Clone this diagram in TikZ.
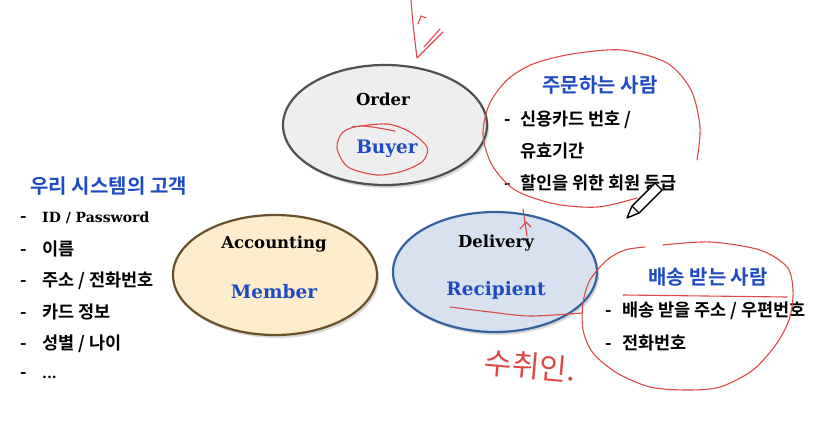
\documentclass[tikz,border=0pt]{standalone}
\usepackage{fontspec}
\usepackage{xcolor}
\usepackage{tikz}
\usetikzlibrary{shapes.geometric, shadows, positioning}

\newfontfamily\kr{Noto Sans CJK KR}[BoldFont={Noto Sans CJK KR Bold}]
\newfontfamily\latin{DejaVu Serif}

\definecolor{roleblue}{RGB}{30,75,195}
\definecolor{penred}{RGB}{222,72,72}
\definecolor{ordfill}{RGB}{238,238,238}
\definecolor{ordline}{RGB}{80,80,80}
\definecolor{accfill}{RGB}{253,237,204}
\definecolor{accline}{RGB}{105,82,42}
\definecolor{delfill}{RGB}{216,225,240}
\definecolor{delline}{RGB}{52,98,160}

\begin{document}
\begin{tikzpicture}[
    x=1pt, y=-1pt,
    entity/.style={ellipse, line width=2.2pt, minimum width=204pt, minimum height=120pt,
        drop shadow={opacity=0.3, shadow xshift=2pt, shadow yshift=-3pt}},
    entname/.style={font=\latin\bfseries\fontsize{16.5}{18}\selectfont, text=black},
    rolename/.style={font=\latin\bfseries\fontsize{18.5}{20}\selectfont, text=roleblue},
    grouptitle/.style={font=\kr\bfseries\fontsize{20}{22}\selectfont, text=roleblue},
    attr/.style={font=\kr\bfseries\fontsize{17.5}{19}\selectfont, anchor=west, inner sep=0pt},
    pen/.style={draw=penred, line width=1.1pt, line cap=round, line join=round}
]

    \useasboundingbox[fill=white] (0,0) rectangle (829,436);

    % Entity: Order / Buyer
    \node (ord) [entity, fill=ordfill, draw=ordline] at (385,125) {};
    \node (ordname) [entname] at (383,99) {Order};
    \node (buyer) [rolename] at (387,149) {Buyer};

    % Entity: Accounting / Member
    \node (acc) [entity, fill=accfill, draw=accline] at (275,275) {};
    \node (accname) [entname] at (274,244) {Accounting};
    \node (member) [rolename] at (274,292) {Member};

    % Entity: Delivery / Recipient
    \node (del) [entity, fill=delfill, draw=delline] at (495,272) {};
    \node (delname) [entname] at (496,243) {Delivery};
    \node (recip) [rolename] at (496,290) {Recipient};

    % Customer of our system
    \node (custtitle) [grouptitle, anchor=west] at (27,186) {우리 시스템의 고객};
    \foreach \y/\txt in {218/{\latin\fontsize{14}{16}\selectfont ID / Password}, 249/{이름},
                         281/{주소 / 전화번호}, 312/{카드 정보}, 344/{성별 / 나이},
                         376/{\latin\fontsize{14}{16}\selectfont ...}} {
        \node [attr] at (20,\y) {\makebox[22pt][l]{-}\txt};
    }

    % Person who orders
    \node (buytitle) [grouptitle] at (600,85) {주문하는 사람};
    \node (buyattr1) [attr] at (504,120) {\makebox[16pt][l]{-}신용카드 번호 /};
    \node (buyattr2) [attr] at (520,151) {유효기간};
    \node (buyattr3) [attr] at (504,183) {\makebox[16pt][l]{-}할인을 위한 회원 등급};

    % Person who receives delivery
    \node (rectitle) [grouptitle] at (708,277) {배송 받는 사람};
    \node (recattr1) [attr] at (605,311) {\makebox[17pt][l]{-}배송 받을 주소 / 우편번호};
    \node (recattr2) [attr] at (605,343) {\makebox[17pt][l]{-}전화번호};

    % Red pen marks
    \draw [pen] (411,0) .. controls (413,25) .. (417,58) -- (443,32);
    \draw [pen] (424,47) -- (440,29);
    \draw [pen] (418,24) -- (421,16) -- (426,18);
    \draw [pen] plot[smooth] coordinates {(352,127) (387,124) (410,132) (427,147) (423,161)
        (403,171) (377,175) (348,167) (337,148) (343,132) (362,126) (395,131)};
    \draw [pen] plot[smooth] coordinates {(697,160) (700,127) (691,90) (667,63) (622,50)
        (572,54) (533,64) (507,80) (489,105) (483,135) (492,165) (515,190) (555,204)
        (598,207) (637,198)};
    \draw [pen] (523,209) -- (527,236);
    \draw [pen] (520,229) -- (526,222) -- (531,227);
    \draw [pen] plot[smooth] coordinates {(450,307) (490,312) (530,316) (582,313)};
    \draw [pen] plot[smooth] coordinates {(663,245) (710,242) (760,250) (787,267)
        (793,290) (790,317) (777,343) (753,370) (720,387) (687,390) (650,387) (617,373)
        (593,353) (583,330) (583,303) (590,280) (607,260) (625,250) (645,247)};
    \draw [pen] (623,295) -- (787,297);
    \node (scrawl) [text=penred, inner sep=0pt, font=\kr\fontsize{30}{32}\selectfont, rotate=-5] at (530,366) {수취인.};

    % Pen cursor
    \draw [fill=white, draw=black, line width=1.4pt, line join=round]
        (627,218) -- (639,213) -- (662,190) -- (655,183) -- (632,206) -- cycle;
    \draw [black, line width=1.2pt] (632,206) -- (639,213);

\end{tikzpicture}
\end{document}
